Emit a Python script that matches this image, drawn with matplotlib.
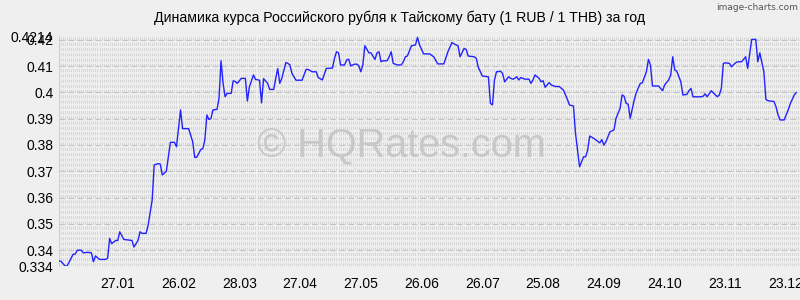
import numpy as np
import pandas as pd
import matplotlib
matplotlib.use("Agg")
import matplotlib.pyplot as plt
import matplotlib.dates as mdates

plt.rcParams['lines.scale_dashes'] = False

title = "Динамика курса Российского рубля к Тайскому бату (1 RUB / 1 THB) за год"
start_date = "2024-12-29"

day_offsets = [
    0, 1, 3, 4, 7, 8, 9, 11, 12, 14, 16, 17, 18, 20, 23, 24, 25, 26, 28, 29,
    30, 32, 34, 36, 37, 39, 40, 41, 43, 44, 46, 47, 49, 50, 51, 53, 55, 57, 58, 60,
    61, 64, 66, 67, 68, 70, 71, 72, 73, 74, 75, 76, 78, 79, 80, 81, 82, 83, 85, 86,
    87, 88, 90, 92, 93, 94, 96, 97, 99, 100, 101, 103, 104, 106, 107, 108, 109, 110, 112, 113,
    114, 115, 117, 120, 121, 122, 123, 125, 127, 128, 130, 132, 135, 136, 137, 138, 139, 141, 142, 143,
    144, 146, 147, 148, 149, 150, 151, 153, 154, 156, 157, 158, 159, 160, 162, 163, 164, 165, 167, 169,
    170, 171, 172, 174, 176, 177, 178, 180, 183, 185, 187, 190, 192, 194, 196, 197, 198, 200, 201, 202,
    205, 206, 207, 209, 212, 213, 214, 215, 216, 218, 219, 220, 222, 223, 224, 225, 226, 227, 228, 230,
    232, 233, 234, 235, 237, 238, 239, 240, 242, 243, 245, 247, 248, 249, 251, 252, 254, 255, 256, 257,
    259, 260, 261, 262, 264, 266, 267, 268, 269, 270, 272, 274, 275, 277, 278, 279, 280, 281, 282, 284,
    285, 287, 288, 290, 291, 292, 293, 296, 298, 299, 301, 302, 303, 304, 305, 307, 308, 310, 311, 312,
    313, 317, 318, 319, 320, 322, 325, 326, 327, 328, 329, 331, 332, 334, 335, 337, 339, 340, 342, 344,
    345, 346, 348, 349, 350, 353, 354, 355, 356, 358, 360, 361, 363, 364,
]

rub_thb = [
    0.3359, 0.3358, 0.3340, 0.3340, 0.3385, 0.3385, 0.3400, 0.3400, 0.3390, 0.3392, 0.3390, 0.3356, 0.3378, 0.3365, 0.3365, 0.3370, 0.3445, 0.3425, 0.3437, 0.3437,
    0.3470, 0.3441, 0.3439, 0.3437, 0.3412, 0.3437, 0.3470, 0.3464, 0.3464, 0.3495, 0.3590, 0.3724, 0.3729, 0.3727, 0.3686, 0.3700, 0.3810, 0.3810, 0.3793, 0.3933,
    0.3862, 0.3862, 0.3812, 0.3753, 0.3753, 0.3783, 0.3786, 0.3819, 0.3914, 0.3897, 0.3900, 0.3933, 0.3935, 0.3977, 0.4120, 0.4034, 0.3983, 0.3996, 0.3996, 0.4044,
    0.4041, 0.4034, 0.4053, 0.4053, 0.3967, 0.4021, 0.4066, 0.4049, 0.4046, 0.3960, 0.4052, 0.4034, 0.4011, 0.4011, 0.4053, 0.4090, 0.4034, 0.4053, 0.4113, 0.4110,
    0.4104, 0.4072, 0.4046, 0.4046, 0.4066, 0.4087, 0.4087, 0.4078, 0.4078, 0.4056, 0.4047, 0.4091, 0.4092, 0.4129, 0.4154, 0.4150, 0.4104, 0.4104, 0.4123, 0.4126,
    0.4101, 0.4107, 0.4107, 0.4101, 0.4078, 0.4104, 0.4177, 0.4150, 0.4150, 0.4125, 0.4150, 0.4154, 0.4116, 0.4120, 0.4120, 0.4135, 0.4154, 0.4110, 0.4104, 0.4104,
    0.4116, 0.4135, 0.4138, 0.4177, 0.4180, 0.4209, 0.4180, 0.4146, 0.4146, 0.4135, 0.4108, 0.4108, 0.4154, 0.4189, 0.4180, 0.4177, 0.4135, 0.4167, 0.4163, 0.4138,
    0.4135, 0.4129, 0.4095, 0.4062, 0.4059, 0.3958, 0.3952, 0.4047, 0.4078, 0.4080, 0.4072, 0.4040, 0.4059, 0.4053, 0.4050, 0.4053, 0.4059, 0.4047, 0.4056, 0.4050,
    0.4050, 0.4034, 0.4047, 0.4066, 0.4053, 0.4040, 0.4044, 0.4019, 0.4037, 0.4028, 0.4022, 0.4022, 0.4015, 0.4009, 0.3973, 0.3952, 0.3948, 0.3844, 0.3780, 0.3717,
    0.3755, 0.3755, 0.3780, 0.3834, 0.3825, 0.3814, 0.3808, 0.3820, 0.3800, 0.3812, 0.3850, 0.3857, 0.3901, 0.3939, 0.3990, 0.3985, 0.3958, 0.3955, 0.3901, 0.3971,
    0.3999, 0.4034, 0.4036, 0.4078, 0.4125, 0.4104, 0.4024, 0.4024, 0.4006, 0.4028, 0.4047, 0.4066, 0.4135, 0.4085, 0.4080, 0.4040, 0.3990, 0.3992, 0.4006, 0.4015,
    0.3983, 0.3983, 0.3985, 0.3994, 0.3983, 0.4006, 0.3983, 0.3990, 0.4015, 0.4110, 0.4112, 0.4110, 0.4097, 0.4112, 0.4116, 0.4116, 0.4135, 0.4091, 0.4201, 0.4201,
    0.4116, 0.4150, 0.4078, 0.3973, 0.3968, 0.3965, 0.3945, 0.3914, 0.3895, 0.3895, 0.3933, 0.3956, 0.3990, 0.3999,
]
assert len(day_offsets) == len(rub_thb)

y_ticks = [0.334, 0.34, 0.35, 0.36, 0.37, 0.38, 0.39, 0.40, 0.41, 0.42, 0.4214]
y_labels = ["0.334", "0.34", "0.35", "0.36", "0.37", "0.38", "0.39", "0.4", "0.41", "0.42", "0.4214"]
x_tick_dates = ["2025-01-27", "2025-02-26", "2025-03-28", "2025-04-27", "2025-05-27", "2025-06-26",
                "2025-07-26", "2025-08-25", "2025-09-24", "2025-10-24", "2025-11-23", "2025-12-23"]
x_end_date = "2025-12-29 20:00"

dates = pd.Timestamp(start_date) + pd.to_timedelta(day_offsets, unit="D")

bg = "#efefef"
fig = plt.figure(figsize=(8, 3), dpi=100, facecolor=bg)
ax = fig.add_axes([59 / 800, 1 - 266 / 300, 1 - 59 / 800, 230 / 300])
ax.set_facecolor(bg)

ax.set_xlim(pd.Timestamp(start_date), pd.Timestamp(x_end_date))
ax.set_ylim(y_ticks[0], y_ticks[-1])

# dense daily vertical dashed grid
all_days = pd.date_range(start_date, x_end_date, freq="D")
for d in all_days:
    ax.axvline(d, color="#d6d6d6", lw=0.72, linestyle=(0, (2.3, 1.48)), zorder=0)
for yv in y_ticks[1:-1]:
    ax.axhline(yv, color="#c4c4c4", lw=0.8, linestyle=(0, (4, 2.5)), zorder=1)

# watermark
ax.text(0.462, 0.52, "© HQRates.com", transform=ax.transAxes, ha="center", va="center",
        fontsize=28.5, color="#c8c8c8", family="Liberation Sans", zorder=2)

ax.plot(dates, rub_thb, color="#2222ff", lw=1.0, zorder=3)

ax.set_yticks(y_ticks)
ax.set_yticklabels(y_labels)
ax.set_xticks(pd.to_datetime(x_tick_dates))
ax.xaxis.set_major_formatter(mdates.DateFormatter("%d.%m"))
ax.tick_params(axis="both", length=0, labelsize=10, colors="black")
ax.tick_params(axis="y", pad=4)
ax.tick_params(axis="x", pad=8)
for lab in ax.get_xticklabels() + ax.get_yticklabels():
    lab.set_family("Liberation Sans")

for s in ["top", "right", "bottom"]:
    ax.spines[s].set_visible(False)
ax.spines["left"].set_color("#cfcfcf")
ax.spines["left"].set_linewidth(0.8)

fig.text(0.5, 1 - 18 / 300, title, ha="center", va="center", fontsize=10.2,
         family="Liberation Sans", color="black")
fig.text(0.997, 1 - 7 / 300, "image-charts.com", ha="right", va="center", fontsize=6.5,
         family=["DejaVu Sans Condensed", "DejaVu Sans"], color="#555555")

fig.savefig("out.png", dpi=100, facecolor=bg)
